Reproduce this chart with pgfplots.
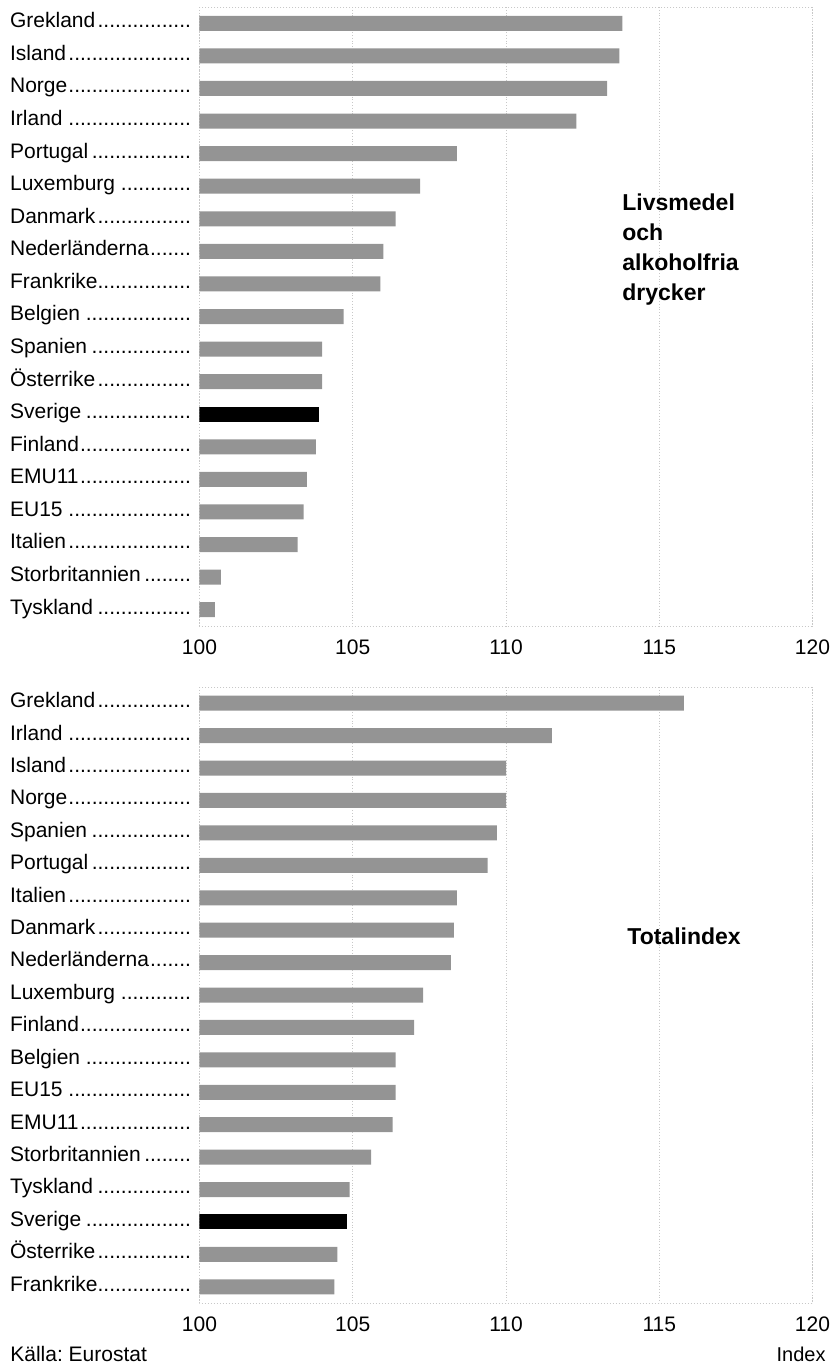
\documentclass[border=0pt]{standalone}
\usepackage{fontspec}
\setmainfont{Liberation Sans}
\usepackage{pgfplots}
\pgfplotsset{compat=1.18}
\frenchspacing
\definecolor{bargray}{RGB}{148,148,148}
\definecolor{gridgray}{RGB}{200,200,200}
\newcommand\lab[1]{\makebox[92pt][l]{#1\leaders\hbox{.}\hfill}}
\pgfplotsset{
 mybar/.style={
   scale only axis, width=306.5pt, anchor=north west,
   xmin=100, xmax=120, ymin=-0.5, ymax=18.5, y dir=reverse,
   xtick={100,105,110,115,120}, ytick={0,...,18},
   major tick length=0pt,
   xmajorgrids, major grid style={gridgray, densely dotted, line width=0.5pt},
   axis line style={gridgray, densely dotted, line width=0.5pt},
   tick label style={font=\fontsize{10.5}{12}\selectfont},
   /pgf/number format/assume math mode=true,
   xticklabel style={yshift=-3.5pt},
   yticklabel style={anchor=base east, inner sep=0pt, xshift=-2.5pt, yshift=-2.2pt},
   xbar, bar width=7.5pt,
 }
}
\begin{document}
\begin{tikzpicture}
\useasboundingbox (0,0) rectangle (415pt,-682.5pt);
\begin{axis}[mybar, height=309.5pt, at={(99.75pt,-3.5pt)},
  yticklabels={\lab{Grekland},\lab{Island},\lab{Norge},\lab{Irland},\lab{Portugal},\lab{Luxemburg},\lab{Danmark},\lab{Nederländerna},\lab{Frankrike},\lab{Belgien},\lab{Spanien},\lab{Österrike},\lab{Sverige},\lab{Finland},\lab{EMU11},\lab{EU15},\lab{Italien},\lab{Storbritannien},\lab{Tyskland}}]
\addplot[fill=bargray, draw=none, bar shift=0pt] coordinates {
 (113.8,0) (113.7,1) (113.3,2) (112.3,3) (108.4,4) (107.2,5) (106.4,6) (106.0,7) (105.9,8) (104.7,9)
 (104.0,10) (104.0,11) (103.8,13) (103.5,14) (103.4,15) (103.2,16) (100.7,17) (100.5,18)};
\addplot[fill=black, draw=none, bar shift=0pt] coordinates {(103.9,12)};
\end{axis}
\begin{axis}[mybar, height=308pt, at={(99.75pt,-343.5pt)},
  yticklabels={\lab{Grekland},\lab{Irland},\lab{Island},\lab{Norge},\lab{Spanien},\lab{Portugal},\lab{Italien},\lab{Danmark},\lab{Nederländerna},\lab{Luxemburg},\lab{Finland},\lab{Belgien},\lab{EU15},\lab{EMU11},\lab{Storbritannien},\lab{Tyskland},\lab{Sverige},\lab{Österrike},\lab{Frankrike}}]
\addplot[fill=bargray, draw=none, bar shift=0pt] coordinates {
 (115.8,0) (111.5,1) (110.0,2) (110.0,3) (109.7,4) (109.4,5) (108.4,6) (108.3,7) (108.2,8) (107.3,9)
 (107.0,10) (106.4,11) (106.4,12) (106.3,13) (105.6,14) (104.9,15) (104.5,17) (104.4,18)};
\addplot[fill=black, draw=none, bar shift=0pt] coordinates {(104.8,16)};
\end{axis}
\node[anchor=north west, inner sep=0pt, align=left, font=\bfseries\fontsize{11.5}{15}\selectfont] at (311pt,-96.5pt) {Livsmedel\\och\\alkoholfria\\drycker};
\node[anchor=north west, inner sep=0pt, font=\bfseries\fontsize{11.5}{14}\selectfont] at (313.5pt,-463.5pt) {Totalindex};
\node[anchor=base east, inner sep=0pt, font=\fontsize{10}{12}\selectfont] at (413pt,-680.5pt) {Index};
\node[anchor=base west, inner sep=0pt, font=\fontsize{10.5}{12}\selectfont] at (5pt,-680.5pt) {Källa: Eurostat};
\end{tikzpicture}
\end{document}
